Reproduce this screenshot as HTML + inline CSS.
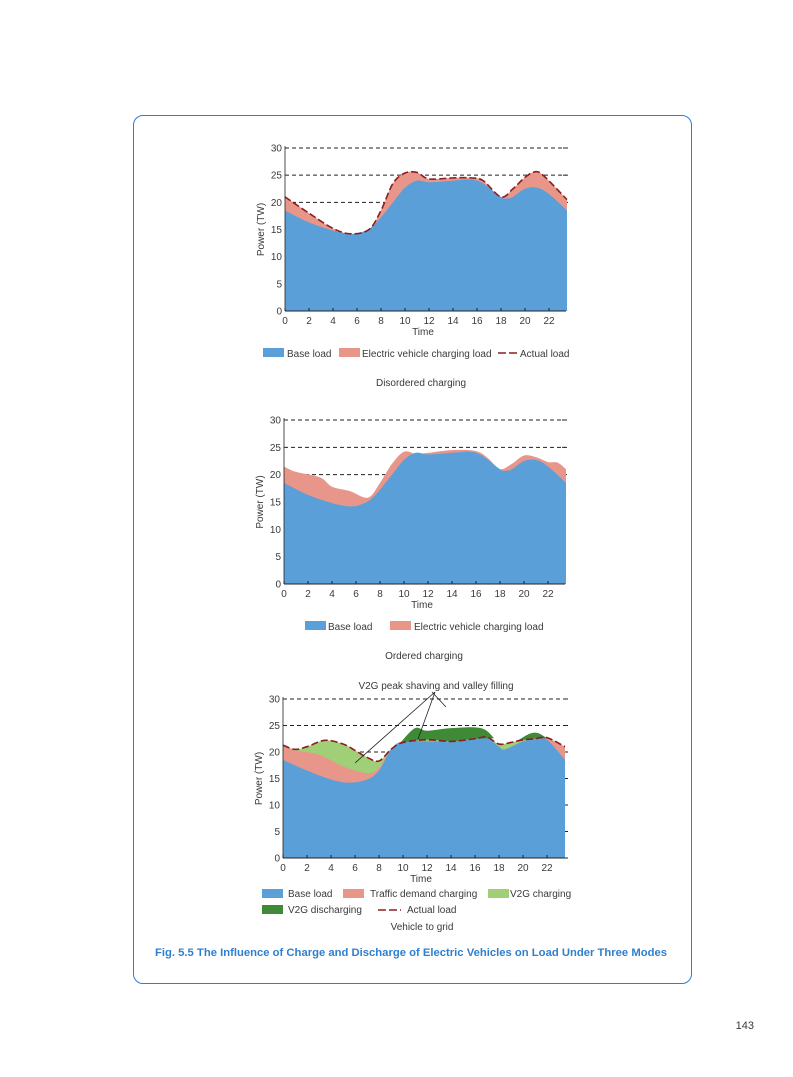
<!DOCTYPE html>
<html><head><style>
body{margin:0;background:#fff;width:793px;height:1077px;position:relative;font-family:"Liberation Sans",sans-serif;overflow:hidden}
.box{position:absolute;left:133px;top:115px;width:557px;height:867px;border:1.5px solid #2f7fcf;border-radius:10px}
svg{position:absolute;left:0;top:0}
text{font-family:"Liberation Sans",sans-serif;font-size:10px;fill:#3a3a3a}
</style></head><body>
<div class="box"></div>
<svg id="s" width="793" height="1077"></svg>
<script>
const S=document.getElementById('s');let h='';
function cr(pts,X,Y){let d='';const p=pts.map(a=>[X(a[0]),Y(a[1])]);
d+=`M${p[0][0]},${p[0][1]}`;
for(let i=0;i<p.length-1;i++){const p0=p[i-1]||p[i],p1=p[i],p2=p[i+1],p3=p[i+2]||p2;
d+=` C${p1[0]+(p2[0]-p0[0])/6},${p1[1]+(p2[1]-p0[1])/6} ${p2[0]-(p3[0]-p1[0])/6},${p2[1]-(p3[1]-p1[1])/6} ${p2[0]},${p2[1]}`;}
return d;}
function rev(pts){return pts.slice().reverse();}
function area(top,bot,X,Y,c){let d=cr(top,X,Y);let b=cr(rev(bot),X,Y).replace('M','L');h+=`<path d="${d} ${b} Z" fill="${c}"/>`;}
function axes(x0,y0,y30,xe){const X=t=>x0+t*12,Y=v=>y0-(y0-y30)*v/30;
for(let v=5;v<=30;v+=5){const y=Y(v);
if(v>=20)h+=`<line x1="${x0}" y1="${y}" x2="${xe+2}" y2="${y}" stroke="#222" stroke-dasharray="4,3"/>`;
h+=`<text x="${x0-3}" y="${y+3.5}" text-anchor="end">${v}</text>`;
h+=`<line x1="${xe-3}" y1="${y}" x2="${xe}" y2="${y}" stroke="#222"/>`;}
h+=`<text x="${x0-3}" y="${y0+3.5}" text-anchor="end">0</text>`;
return [X,Y];}
function frame(X,Y,x0,y0,xe){
h+=`<line x1="${x0}" y1="${y0}" x2="${xe}" y2="${y0}" stroke="#222"/><line x1="${x0}" y1="${Y(30)-2}" x2="${x0}" y2="${y0}" stroke="#222" stroke-width="0.8"/>`;
for(let t=0;t<=22;t+=2){h+=`<line x1="${X(t)}" y1="${y0}" x2="${X(t)}" y2="${y0-3}" stroke="#222"/><text x="${X(t)}" y="${y0+13}" text-anchor="middle">${t}</text>`;}
h+=`<text x="${X(11.5)}" y="${y0+24}" text-anchor="middle">Time</text>`;
h+=`<text transform="translate(${x0-21},${Y(15)}) rotate(-90)" text-anchor="middle">Power (TW)</text>`;}
const B='#5b9fd8',R='#e8968a',LG='#a1cf78',DG='#3f8a36',DR='#8b1e1e';
let [X,Y]=axes(285,311,148,566);
const base=[[0,18.5],[2,16.3],[4,14.8],[5.5,14.2],[6.5,14.6],[7.5,16],[9,20],[10,22.7],[11,24],[12,23.7],[14,24],[15.5,24.2],[16.5,23.5],[18,21],[18.5,20.7],[19,21],[20,22.5],[21,22.7],[22,21.5],[23.5,18.5]];
const act1=[[0,21],[2,18],[4,15.2],[5.5,14.2],[7,15],[8,18.5],[9,23.5],[10,25.4],[11,25.5],[12,24.3],[14,24.5],[15.5,24.5],[16.5,24],[18,21],[19,22.5],[20,24.6],[20.8,25.6],[21.5,25],[23.5,20.5]];
area(act1,[[0,0],[23.5,0]],X,Y,R);area(base,[[0,0],[23.5,0]],X,Y,B);
h+=`<path d="${cr(act1,X,Y)}" fill="none" stroke="${DR}" stroke-width="1.6" stroke-dasharray="7,3"/>`;
frame(X,Y,285,311,566);
h+=`<rect x="263" y="348" width="21" height="9" fill="${B}"/><text x="287" y="357">Base load</text><rect x="339" y="348" width="21" height="9" fill="${R}"/><text x="362" y="357">Electric vehicle charging load</text><line x1="498" y1="353" x2="519" y2="353" stroke="${DR}" stroke-width="1.6" stroke-dasharray="8,3"/><text x="520" y="357">Actual load</text><text x="421" y="386" text-anchor="middle">Disordered charging</text>`;
[X,Y]=axes(284,584,420,565);
const top2=[[0,21.5],[1,20.5],[3,19.5],[4,17.8],[5.5,17],[7,15.8],[8,18.5],[9,22],[10,24.2],[11,23.8],[12,24],[14,24.5],[16,24.3],[17,23],[18,21],[19,22],[20,23.5],[21,23.2],[22,22.3],[22.8,22.2],[23.5,21]];
area(top2,[[0,0],[23.5,0]],X,Y,R);area(base,[[0,0],[23.5,0]],X,Y,B);
frame(X,Y,284,584,565);
h+=`<rect x="305" y="621" width="21" height="9" fill="${B}"/><text x="328" y="630">Base load</text><rect x="390" y="621" width="21" height="9" fill="${R}"/><text x="414" y="630">Electric vehicle charging load</text><text x="424" y="659" text-anchor="middle">Ordered charging</text>`;
[X,Y]=axes(283,858,699,568);
const base3=[[0,18.5],[2,16.5],[4,14.8],[5.5,14.2],[7,14.8],[8,16.5],[9,20.5],[10,22],[12,22],[14,22],[16,22.5],[17,22.7],[18,21],[18.5,20.5],[20,22],[21,22.5],[22,22.3],[23.5,18.5]];
const tr3=[[0,21.3],[1,20.3],[3,19.5],[5,17.3],[7,16],[8,17],[9,20.6],[10,22],[12,22],[14,22],[16,22.5],[17,22.7],[18,21],[18.5,20.5],[20,22],[21,22.5],[22,22.6],[23.5,21]];
const act3=[[0,21.3],[1,20.5],[2,21],[3.5,22.2],[5,21.5],[6,20.3],[7,19],[8,18.3],[9,20.5],[10,21.8],[12,22.3],[14,22],[16,22.5],[17,22.8],[18,21.5],[19,21.8],[20,22.3],[21,22.5],[22,22.7],[23.5,21]];
area(act3,[[0,0],[23.5,0]],X,Y,LG);area(tr3,[[0,0],[23.5,0]],X,Y,R);area(base3,[[0,0],[23.5,0]],X,Y,B);
area([[9.8,21.8],[11,24.5],[12,24],[14,24.5],[16.5,24.5],[17.6,22.6]],[[9.8,21.8],[12,22.3],[14,22],[16,22.5],[17.6,22.6]],X,Y,DG);
area([[19.6,22.2],[20.5,23.4],[21.2,23.6],[22,22.6]],[[19.6,22.2],[21,22.5],[22,22.6]],X,Y,DG);
h+=`<path d="${cr(act3,X,Y)}" fill="none" stroke="${DR}" stroke-width="1.6" stroke-dasharray="7,3"/>`;
frame(X,Y,283,858,568);
h+=`<text x="436" y="689" text-anchor="middle">V2G peak shaving and valley filling</text><line x1="435" y1="692" x2="355" y2="763" stroke="#222" stroke-width="0.8"/><line x1="435" y1="692" x2="418" y2="739" stroke="#222" stroke-width="0.8"/><line x1="432" y1="692" x2="446" y2="707" stroke="#222" stroke-width="0.8"/>`;
h+=`<rect x="262" y="889" width="21" height="9" fill="${B}"/><text x="288" y="897">Base load</text><rect x="343" y="889" width="21" height="9" fill="${R}"/><text x="370" y="897">Traffic demand charging</text><rect x="488" y="889" width="21" height="9" fill="${LG}"/><text x="510" y="897">V2G charging</text>`;
h+=`<rect x="262" y="905" width="21" height="9" fill="${DG}"/><text x="288" y="913">V2G discharging</text><line x1="378" y1="910" x2="401" y2="910" stroke="${DR}" stroke-width="1.6" stroke-dasharray="8,3"/><text x="407" y="913">Actual load</text><text x="422" y="930" text-anchor="middle">Vehicle to grid</text>`;
h+=`<text x="155" y="956" textLength="512" lengthAdjust="spacingAndGlyphs" style="font-size:11px;font-weight:bold;fill:#2f7fcf">Fig. 5.5   The Influence of Charge and Discharge of Electric Vehicles on Load Under Three Modes</text>`;
h+=`<text x="754" y="1029" text-anchor="end" style="font-size:11px">143</text>`;
S.innerHTML=h;
</script>
</body></html>
